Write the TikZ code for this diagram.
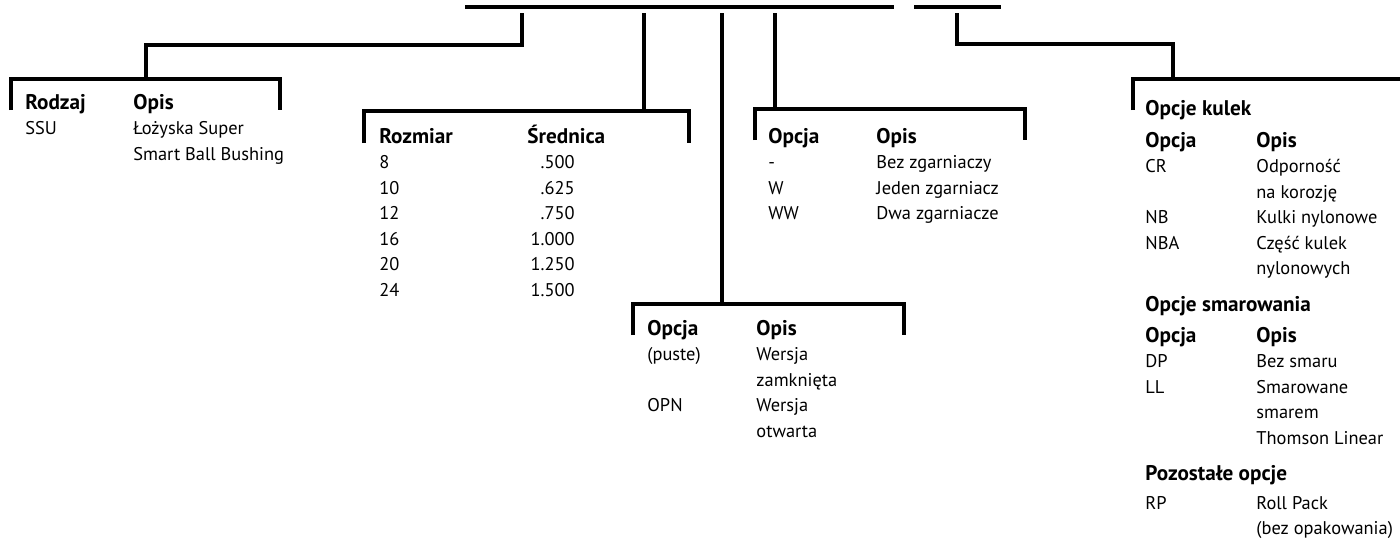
\documentclass[tikz,border=0pt]{standalone}
\usepackage{fontspec}
\setmainfont{PT Sans}

\tikzset{
  bar/.style={line width=1.6pt,line join=miter},
  col/.style={anchor=base west,inner sep=0pt,align=left,
    font=\fontsize{9.2}{12.75}\selectfont},
  num/.style={anchor=base east,inner sep=0pt,align=right,
    font=\fontsize{9.2}{12.75}\selectfont}
}
\newcommand{\hd}[1]{{\fontsize{10.6}{12.75}\selectfont\bfseries #1}}

\begin{document}
\begin{tikzpicture}[x=0.5pt,y=-0.5pt]
\useasboundingbox (0,0) rectangle (1400,547);

% top bars
\coordinate (barA) at (465,7);
\coordinate (barB) at (894,7);
\coordinate (barC) at (914,7);
\coordinate (barD) at (1001,7);
\draw[bar] (barA) -- (barB);
\draw[bar] (barC) -- (barD);

% drops from the top bars
\coordinate (rodzajTop) at (522,13);
\coordinate (rozmiarTop) at (644,13);
\coordinate (wersjaTop) at (722,13);
\coordinate (zgarnTop) at (775,13);
\coordinate (opcjeTop) at (957,13);

% brackets
\coordinate (rodzajMid) at (146,79);
\coordinate (rodzajL) at (11,110);
\coordinate (rodzajR) at (280,110);
\coordinate (rozmiarMid) at (644,111);
\coordinate (rozmiarL) at (364,143);
\coordinate (rozmiarR) at (689,143);
\coordinate (wersjaMid) at (722,304);
\coordinate (wersjaL) at (633,335);
\coordinate (wersjaR) at (904,335);
\coordinate (zgarnMid) at (775,109);
\coordinate (zgarnL) at (755,140);
\coordinate (zgarnR) at (1025,140);
\coordinate (opcjeMid) at (1173,79);
\coordinate (opcjeL) at (1133,110);
\coordinate (opcjeR) at (1405,79);

\draw[bar] (rodzajTop) -- ++(0,32) -| (rodzajMid);
\draw[bar] (rodzajL) |- (rodzajMid) -| (rodzajR);
\draw[bar] (rozmiarTop) -- (rozmiarMid);
\draw[bar] (rozmiarL) |- (rozmiarMid) -| (rozmiarR);
\draw[bar] (wersjaTop) -- (wersjaMid);
\draw[bar] (wersjaL) |- (wersjaMid) -| (wersjaR);
\draw[bar] (zgarnTop) -- (zgarnMid);
\draw[bar] (zgarnL) |- (zgarnMid) -| (zgarnR);
\draw[bar] (opcjeTop) -- ++(0,31) -| (opcjeMid);
\draw[bar] (opcjeL) |- (opcjeMid) -- (opcjeR);

% text columns: placed at the baseline of their last line
% Rodzaj
\node[col] (rodzajA) at (25,134.5) {\hd{Rodzaj}\\SSU};
\node[col] (rodzajB) at (133,160) {\hd{Opis}\\Łożyska Super\\Smart Ball Bushing};

% Rozmiar
\node[col] (rozmiarA) at (379,296) {\hd{Rozmiar}\\8\\10\\12\\16\\20\\24};
\node[col] (rozmiarB) at (527,143) {\hd{Średnica}};
\node[num] (rozmiarC) at (575,296) {.500\\.625\\.750\\1.000\\1.250\\1.500};

% zgarniacze
\node[col] (zgarnA) at (768,219.5) {\hd{Opcja}\\-\\W\\WW};
\node[col] (zgarnB) at (876,219.5) {\hd{Opis}\\Bez zgarniaczy\\Jeden zgarniacz\\Dwa zgarniacze};

% wersja
\node[col] (wersjaA) at (647,411.5) {\hd{Opcja}\\(puste)\\\\OPN};
\node[col] (wersjaB) at (756,437) {\hd{Opis}\\Wersja\\zamknięta\\Wersja\\otwarta};

% opcje
\node[col] (kulkiT) at (1145,115) {\hd{Opcje kulek}};
\node[col] (kulkiA) at (1145,249) {\hd{Opcja}\\CR\\\\NB\\NBA};
\node[col] (kulkiB) at (1256,274.5) {\hd{Opis}\\Odporność\\na korozję\\Kulki nylonowe\\Część kulek\\nylonowych};
\node[col] (smarT) at (1145,311) {\hd{Opcje smarowania}};
\node[col] (smarA) at (1145,393) {\hd{Opcja}\\DP\\LL};
\node[col] (smarB) at (1256,444) {\hd{Opis}\\Bez smaru\\Smarowane\\smarem\\Thomson Linear};
\node[col] (inneT) at (1145,480) {\hd{Pozostałe opcje}};
\node[col] (inneA) at (1145,509) {RP};
\node[col] (inneB) at (1256,534.5) {Roll Pack\\(bez opakowania)};
\end{tikzpicture}
\end{document}
